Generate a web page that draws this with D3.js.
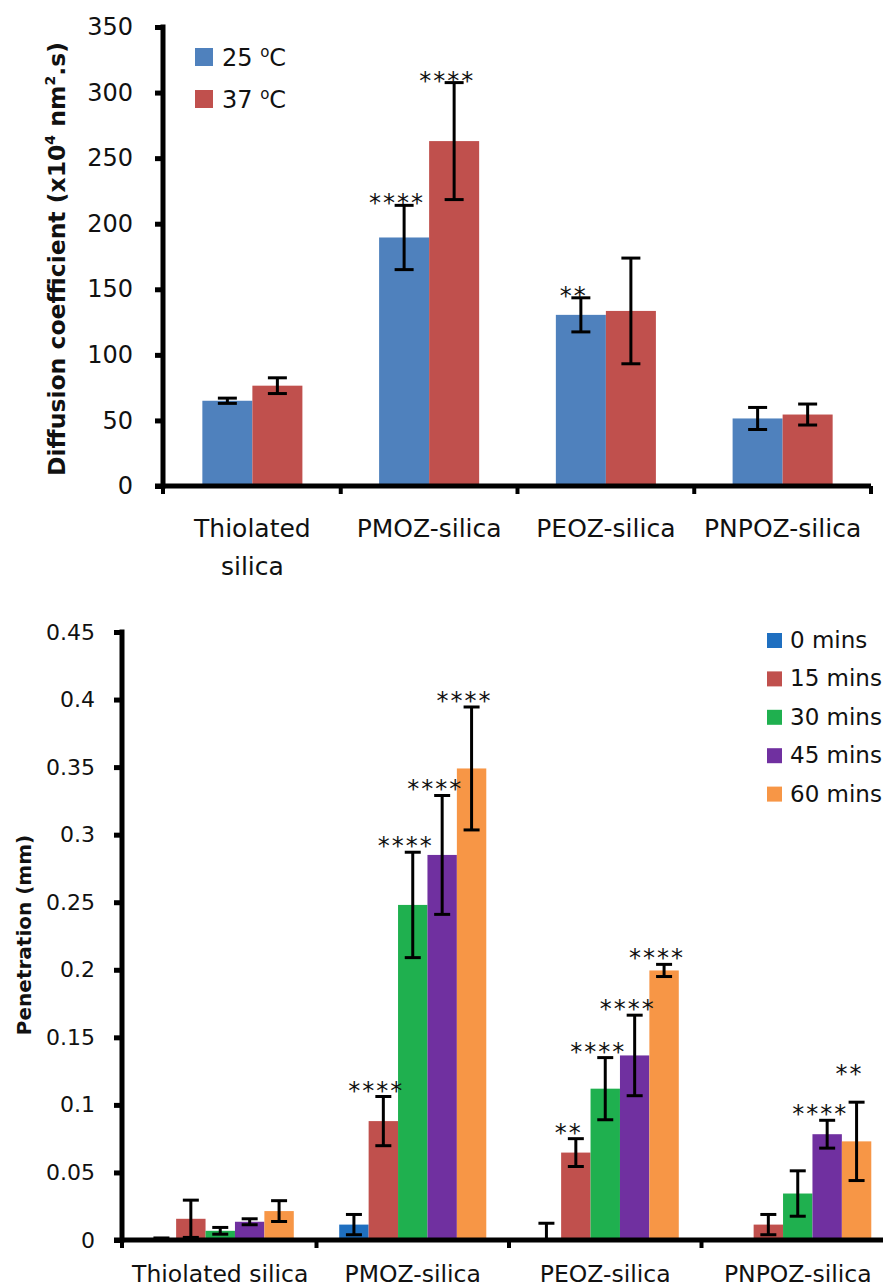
<html>
<head>
<script src="https://cdn.jsdelivr.net/npm/d3@7/dist/d3.min.js"></script>
<style>
  body { margin: 0; background: white; }
  svg { display: block; font-family: "DejaVu Sans", sans-serif; }
</style>
</head>
<body>
<svg id="chart"></svg>
<script>
// ---- top chart data (diffusion coefficient)
const topCategories = ["Thiolated\nsilica", "PMOZ-silica", "PEOZ-silica", "PNPOZ-silica"]
const topTemps = ["25", "37"]
const topColors = ["#4F81BD", "#C0504D"]
const topMeans = [[65, 76.5], [189.5, 263], [130.5, 133.5], [51.5, 54.5]]
const topErrors = [[2, 6], [24.5, 44.6], [13, 40.3], [8.4, 8]]
const topStars = [["", ""], ["****", "****"], ["**", ""], ["", ""]]
const topTicks = [0, 50, 100, 150, 200, 250, 300, 350]

// ---- bottom chart data (penetration)
const botCategories = ["Thiolated silica", "PMOZ-silica", "PEOZ-silica", "PNPOZ-silica"]
const botSeries = ["0 mins", "15 mins", "30 mins", "45 mins", "60 mins"]
const botColors = ["#1F6FC0", "#C0504D", "#1FB04F", "#7030A0", "#F79646"]
const botMeans = [
  [0.0005, 0.0157, 0.0068, 0.0135, 0.0214],
  [0.0114, 0.088, 0.248, 0.285, 0.349],
  [0.000, 0.0647, 0.112, 0.1366, 0.1995],
  [0.000, 0.0114, 0.0344, 0.0783, 0.073]
]
const botErrors = [
  [0.001, 0.0138, 0.0025, 0.0022, 0.0077],
  [0.0075, 0.0182, 0.039, 0.044, 0.0455],
  [0.0124, 0.0103, 0.023, 0.0298, 0.0045],
  [0.000, 0.0075, 0.0168, 0.0103, 0.029]
]
const botStars = [
  ["", "", "", "", ""],
  ["", "****", "****", "****", "****"],
  ["", "**", "****", "****", "****"],
  ["", "", "", "****", "**"]
]
const botTicks = [0, 0.05, 0.1, 0.15, 0.2, 0.25, 0.3, 0.35, 0.4, 0.45]

const svg = d3.select("#chart").attr("width", 883).attr("height", 1288)

function drawGroupedBars(cfg) {
  let g = svg.append("g")
  let x0 = d3.scaleBand()
    .domain(cfg.categories)
    .range([cfg.bandLeft, cfg.right])
    .paddingInner(cfg.padding)
    .paddingOuter(cfg.padding / 2)
  let x1 = d3.scaleBand()
    .domain(d3.range(cfg.nSeries))
    .range([0, x0.bandwidth()])
  let y = d3.scaleLinear().domain([0, cfg.max]).range([cfg.bottom, cfg.top])

  let rows = []
  cfg.means.forEach((vals, ci) => {
    vals.forEach((v, si) => {
      rows.push({ cat: cfg.categories[ci], si, v, err: cfg.errors[ci][si], star: cfg.stars[ci][si] })
    })
  })

  // bars
  g.selectAll(".bar").data(rows.filter(d => d.v > 0)).enter().append("rect")
    .attr("x", d => x0(d.cat) + x1(d.si))
    .attr("width", x1.bandwidth())
    .attr("y", d => y(d.v))
    .attr("height", d => y(0) - y(d.v))
    .attr("fill", d => cfg.colors[d.si])

  // error bars
  let cx = d => x0(d.cat) + x1(d.si) + x1.bandwidth() / 2
  let eb = g.selectAll(".err").data(rows.filter(d => d.err > 0)).enter().append("g")
    .attr("stroke", "black").attr("stroke-width", cfg.errWidth)
  eb.append("line")
    .attr("x1", cx).attr("x2", cx)
    .attr("y1", d => y(d.v + d.err)).attr("y2", d => y(Math.max(0, d.v - d.err)))
  eb.append("line")
    .attr("x1", d => cx(d) - cfg.cap).attr("x2", d => cx(d) + cfg.cap)
    .attr("y1", d => y(d.v + d.err)).attr("y2", d => y(d.v + d.err))
  eb.filter(d => d.v - d.err > 0).append("line")
    .attr("x1", d => cx(d) - cfg.cap).attr("x2", d => cx(d) + cfg.cap)
    .attr("y1", d => y(d.v - d.err)).attr("y2", d => y(d.v - d.err))

  // significance stars, lifted when they would collide with the previous one
  let starRows = rows.filter(d => d.star)
  let prev = null
  starRows.forEach(d => {
    d.sx = cx(d) + cfg.starDx + 1
    d.sy = y(d.v + d.err) + cfg.starDy
    d.w = d.star.length * 14
    if (prev && prev.cat === d.cat && Math.abs(prev.sx - d.sx) < (prev.w + d.w) / 2 && prev.sy - d.sy < 40) {
      d.sy = prev.sy - 40
    }
    prev = d
  })
  g.selectAll(".star").data(starRows).enter().append("text")
    .attr("x", d => d.sx)
    .attr("y", d => d.sy)
    .attr("text-anchor", "middle")
    .attr("font-size", 24)
    .attr("letter-spacing", 2)
    .attr("fill", "#111")
    .text(d => d.star)

  // y axis
  let yAxis = d3.axisLeft(y).tickValues(cfg.ticks).tickSize(8).tickPadding(cfg.tickPad)
    .tickFormat(d3.format("~g"))
  let ya = g.append("g").attr("transform", `translate(${cfg.left},0)`).call(yAxis)
  ya.select(".domain").attr("stroke-width", 5).attr("d", `M0,${cfg.top - 2.5}V${cfg.bottom + 2.5}`)
  ya.selectAll(".tick line").attr("stroke-width", 5)
  ya.selectAll(".tick text").attr("font-size", cfg.tickSize).attr("fill", "#111")
    .attr("font-family", "DejaVu Sans, sans-serif")

  // x axis with boundary ticks
  let xa = g.append("g")
  xa.append("line").attr("x1", cfg.left - 8).attr("x2", cfg.right)
    .attr("y1", y(0)).attr("y2", y(0)).attr("stroke", "black").attr("stroke-width", 5)
  let bounds = cfg.categories.map(c => x0(c) - x0.step() * cfg.padding / 2).concat([cfg.right])
  bounds[0] = cfg.left
  xa.selectAll(".bt").data(bounds).enter().append("line")
    .attr("x1", d => d).attr("x2", d => d)
    .attr("y1", y(0)).attr("y2", y(0) + 8)
    .attr("stroke", "black").attr("stroke-width", 4)

  let labels = xa.selectAll(".cl").data(cfg.categories).enter().append("text")
    .attr("y", cfg.catY)
    .attr("text-anchor", "middle")
    .attr("font-size", cfg.catSize)
    .attr("fill", "#111")
  labels.selectAll("tspan").data(d => d.split("\n").map(s => ({ s, x: x0(d) + x0.bandwidth() / 2 })))
    .enter().append("tspan")
    .attr("x", d => d.x)
    .attr("dy", (d, i) => i === 0 ? 0 : 38)
    .text(d => d.s)

  return { x0, x1, y }
}

// ---------- top chart
drawGroupedBars({
  categories: topCategories, nSeries: 2, colors: topColors,
  means: topMeans, errors: topErrors, stars: topStars,
  left: 163, bandLeft: 164, right: 871, top: 27, bottom: 486, max: 350, padding: 0.434,
  ticks: topTicks, tickPad: 22, tickSize: 24,
  errWidth: 3, cap: 9.5, starDx: -8, starDy: 6,
  catY: 537, catSize: 25
})

let topLegend = svg.append("g")
topTemps.forEach((t, i) => {
  let yy = 48 + i * 42
  topLegend.append("rect").attr("x", 195).attr("y", yy).attr("width", 18).attr("height", 18).attr("fill", topColors[i])
  let tx = topLegend.append("text").attr("x", 222).attr("y", yy + 18).attr("font-size", 24).attr("fill", "#111")
  tx.append("tspan").text(t + " ")
  tx.append("tspan").attr("font-size", 15).attr("dy", -9).text("o")
  tx.append("tspan").attr("dy", 9).text("C")
})

let topTitle = svg.append("text")
  .attr("transform", "translate(65,259) rotate(-90)")
  .attr("text-anchor", "middle").attr("font-size", 23.5).attr("font-weight", "bold").attr("fill", "#111")
topTitle.append("tspan").text("Diffusion coefficient (x10")
topTitle.append("tspan").attr("font-size", 14).attr("dy", -10).text("4")
topTitle.append("tspan").attr("dy", 10).text(" nm")
topTitle.append("tspan").attr("font-size", 14).attr("dy", -10).text("2")
topTitle.append("tspan").attr("dy", 10).text(".s)")

// ---------- bottom chart
drawGroupedBars({
  categories: botCategories, nSeries: 5, colors: botColors,
  means: botMeans, errors: botErrors, stars: botStars,
  left: 122, bandLeft: 124, right: 894, top: 632, bottom: 1240, max: 0.45, padding: 0.236,
  ticks: botTicks, tickPad: 19, tickSize: 22,
  errWidth: 3, cap: 8, starDx: -8, starDy: 2,
  catY: 1282, catSize: 23.5
})

let botLegend = svg.append("g")
botSeries.forEach((s, i) => {
  let yy = 633 + i * 38.4
  botLegend.append("rect").attr("x", 767).attr("y", yy).attr("width", 15).attr("height", 15).attr("fill", botColors[i])
  botLegend.append("text").attr("x", 790).attr("y", yy + 15).attr("font-size", 23).attr("fill", "#111").text(s)
})

svg.append("text")
  .attr("transform", "translate(31,935) rotate(-90)")
  .attr("text-anchor", "middle").attr("font-size", 20).attr("font-weight", "bold").attr("fill", "#111")
  .text("Penetration (mm)")
</script>
</body>
</html>
